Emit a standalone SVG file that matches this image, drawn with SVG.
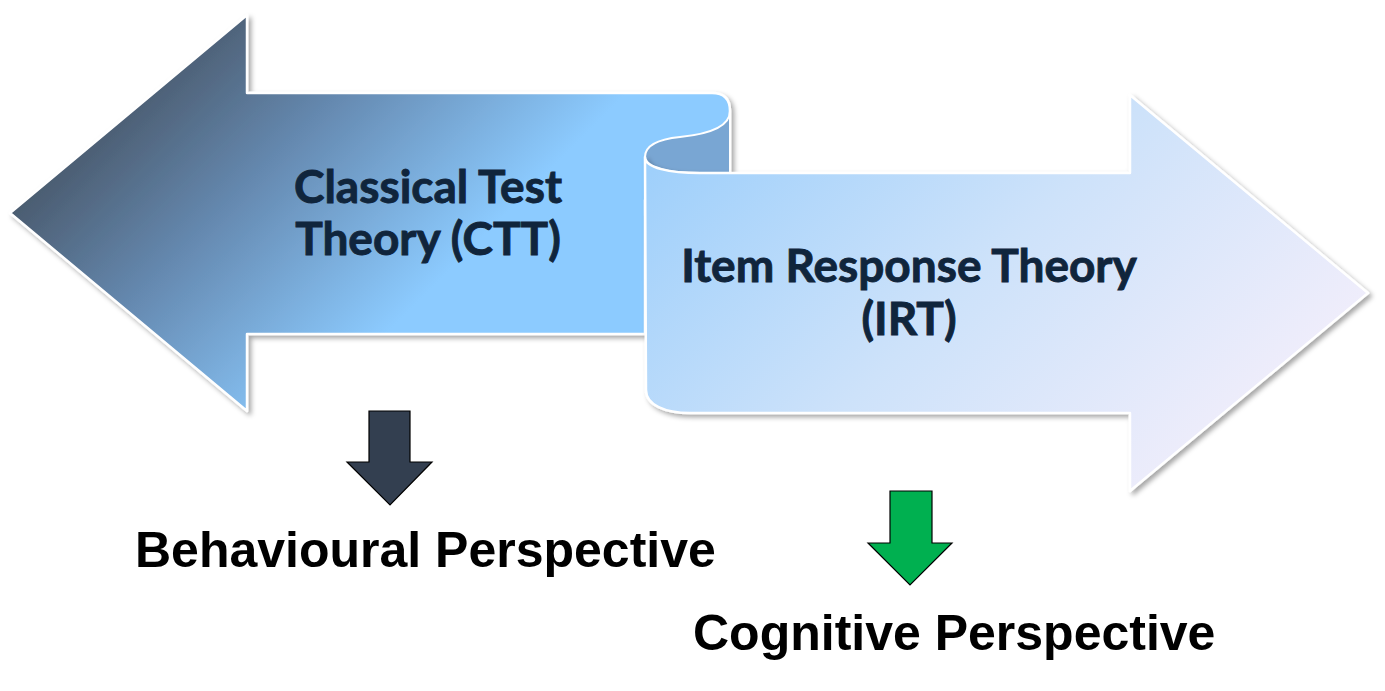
<svg xmlns="http://www.w3.org/2000/svg" width="1385" height="691" viewBox="0 0 1385 691">
<defs>
<linearGradient id="gLeft" gradientUnits="userSpaceOnUse" x1="100" y1="100" x2="360" y2="360">
<stop offset="0" stop-color="#485769"/>
<stop offset="0.45" stop-color="#6589b0"/>
<stop offset="1" stop-color="#8ccbff"/>
</linearGradient>
<linearGradient id="gRight" gradientUnits="userSpaceOnUse" x1="400" y1="400" x2="850" y2="850">
<stop offset="0" stop-color="#9dcffb"/>
<stop offset="0.5" stop-color="#cde2fa"/>
<stop offset="1" stop-color="#f2eefb"/>
</linearGradient>
<filter id="sh" x="-5%" y="-5%" width="115%" height="115%">
<feDropShadow dx="3" dy="3" stdDeviation="2.5" flood-color="#000" flood-opacity="0.35"/>
</filter>
<style>
.big{stroke:#fff;stroke-width:2.5;stroke-linejoin:round;filter:url(#sh)}
.lbl{font-family:Lato,"Open Sans",sans-serif;font-weight:bold;font-size:46px;fill:#10253c;stroke:#10253c;stroke-width:0.9;text-anchor:middle}
.persp{font-family:"Liberation Sans",Arial,sans-serif;font-weight:bold;font-size:50px;fill:#000}
.down{stroke:#000;stroke-width:1.2;stroke-linejoin:miter}
</style>
</defs>
<rect width="1385" height="691" fill="#fff"/>
<g id="ctt">
<path class="big" fill="url(#gLeft)" d="M10,213 L247,15 L247,93 L712,93 Q730,93 730,111 L730,200 L645,200 L645,334 L247,334 L247,411 Z"/>
<path fill="#79a6d3" stroke="#fff" stroke-width="2" d="M730,111 C730,130 700,135 680,137 C660,139 645,145 645,157 C645,168 670,173 700,173 L730,173 Z"/>
<text class="lbl" x="428" y="203">Classical Test</text>
<text class="lbl" x="428" y="255">Theory (CTT)</text>
</g>
<g id="irt">
<path class="big" fill="url(#gRight)" d="M645,157 C645,168 670,173 700,173 L1130,173 L1130,95 L1368,293 L1130,491 L1130,413 L690,413 C665,413 646,405 646,390 Z"/>
<text class="lbl" x="909" y="282">Item Response Theory</text>
<text class="lbl" x="909" y="335">(IRT)</text>
</g>
<g id="behavioural">
<path class="down" fill="#333f50" d="M369,411 L410,411 L410,462 L432,462 L390,505 L347,462 L369,462 Z"/>
<text class="persp" x="135" y="567">Behavioural Perspective</text>
</g>
<g id="cognitive">
<path class="down" fill="#00b050" d="M890,491 L932,491 L932,543 L952,543 L910,585 L868,543 L890,543 Z"/>
<text class="persp" x="693" y="650">Cognitive Perspective</text>
</g>
<g id="connectors"/>
</svg>
